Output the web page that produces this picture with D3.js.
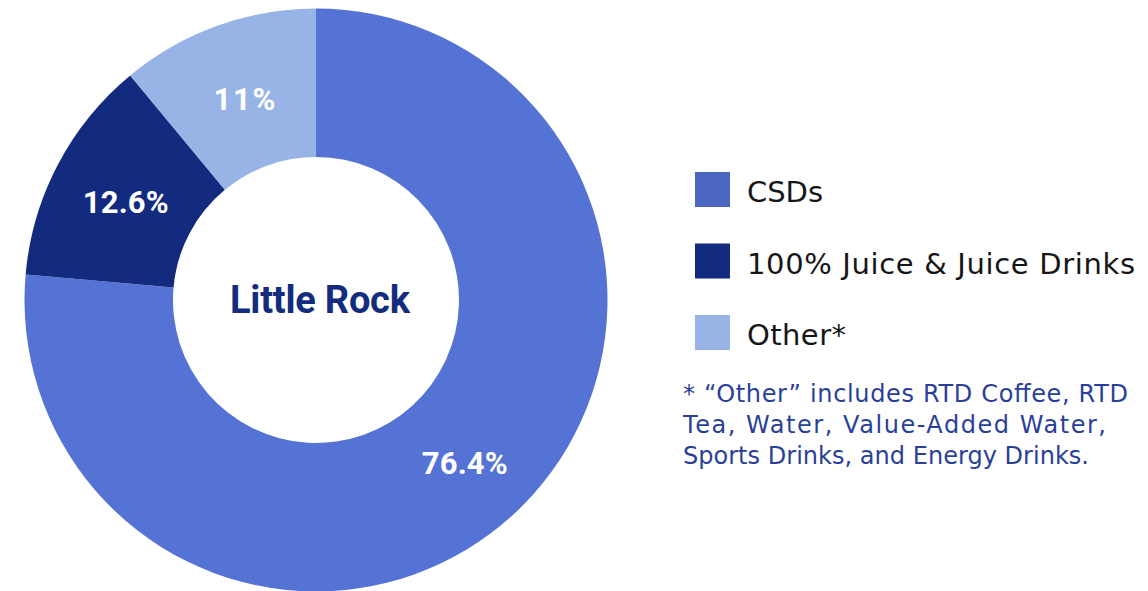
<!DOCTYPE html>
<html>
<head>
<meta charset="utf-8">
<script src="https://cdn.jsdelivr.net/npm/d3@7"></script>
<style>
  html, body { margin: 0; padding: 0; background: #ffffff; }
  svg { display: block; }
</style>
</head>
<body>
<svg id="chart" width="1148" height="591"></svg>
<script>
// Beverage category share, Little Rock
const categories = ["CSDs", "100% Juice & Juice Drinks", "Other*"];
const shares = [76.4, 12.6, 11];
const shareLabels = ["76.4%", "12.6%", "11%"];
const sliceColors = ["#5573D4", "#122B7F", "#98B4E6"];
const swatchColors = ["#4A66C0", "#122B7F", "#98B4E6"];
const centerTitle = "Little Rock";
const footnoteLines = [
  "* \u201COther\u201D includes RTD Coffee, RTD",
  "Tea, Water, Value-Added Water,",
  "Sports Drinks, and Energy Drinks."
];

const svg = d3.select("#chart");

const cx = 316, cy = 300;
const outerR = 291.5, innerR = 143;

const data = categories.map((c, i) => ({ name: c, value: shares[i], label: shareLabels[i] }));

const color = d3.scaleOrdinal().domain(categories).range(sliceColors);
const swatch = d3.scaleOrdinal().domain(categories).range(swatchColors);

const pie = d3.pie().sort(null).value(d => d.value);
const arc = d3.arc().innerRadius(innerR).outerRadius(outerR);

const g = svg.append("g").attr("transform", `translate(${cx},${cy})`);
const arcs = pie(data);

g.selectAll("path.slice")
  .data(arcs)
  .join("path")
  .attr("class", "slice")
  .attr("d", arc)
  .attr("fill", d => color(d.data.name));

// percentage labels at slice centroids
const labelWidths = { "76.4%": 86, "12.6%": 86, "11%": 62 };
g.selectAll("text.pct")
  .data(arcs)
  .join("text")
  .attr("class", "pct")
  .attr("x", d => arc.centroid(d)[0] + 2)
  .attr("y", d => arc.centroid(d)[1] + 14)
  .attr("text-anchor", "middle")
  .attr("font-family", "Roboto, 'DejaVu Sans', sans-serif")
  .attr("font-weight", 700)
  .attr("font-size", 31)
  .attr("fill", "#ffffff")
  .attr("textLength", d => labelWidths[d.data.label])
  .attr("lengthAdjust", "spacing")
  .text(d => d.data.label);

// center title
g.append("text")
  .attr("x", 4)
  .attr("y", 13)
  .attr("text-anchor", "middle")
  .attr("font-family", "Roboto, 'DejaVu Sans', sans-serif")
  .attr("font-weight", 700)
  .attr("font-size", 38)
  .attr("fill", "#132C7E")
  .attr("textLength", 180)
  .attr("lengthAdjust", "spacing")
  .text(centerTitle);

// legend
const legendY = d3.scalePoint().domain(categories).range([172, 315]);
const legendTextWidths = [76, 388, 99];
const legend = svg.append("g");
const items = legend.selectAll("g.item")
  .data(categories)
  .join("g")
  .attr("class", "item")
  .attr("transform", d => `translate(695,${legendY(d)})`);

items.append("rect")
  .attr("width", 35)
  .attr("height", 35)
  .attr("fill", d => swatch(d));

items.append("text")
  .attr("x", 52)
  .attr("y", 30)
  .attr("font-family", "'DejaVu Sans', sans-serif")
  .attr("font-size", 29)
  .attr("fill", "#161616")
  .attr("textLength", (d, i) => legendTextWidths[i])
  .attr("lengthAdjust", "spacing")
  .text(d => d);

// footnote
const footWidths = [445, 423, 406];
svg.append("g")
  .selectAll("text")
  .data(footnoteLines)
  .join("text")
  .attr("x", 683)
  .attr("y", (d, i) => 402 + i * 31)
  .attr("font-family", "'DejaVu Sans', sans-serif")
  .attr("font-size", 24)
  .attr("fill", "#2A3F99")
  .attr("textLength", (d, i) => footWidths[i])
  .attr("lengthAdjust", "spacing")
  .text(d => d);
</script>
</body>
</html>
